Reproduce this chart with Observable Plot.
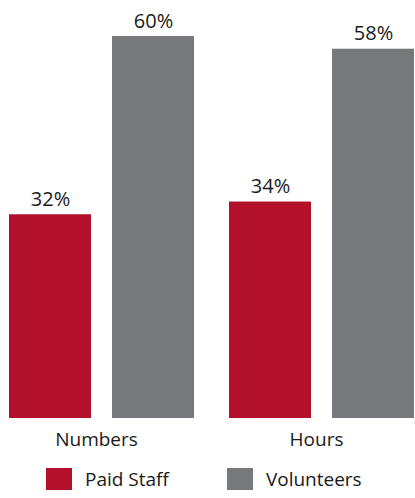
<!DOCTYPE html>
<html>
<head>
<meta charset="utf-8">
<script src="https://cdn.jsdelivr.net/npm/d3@7"></script>
<script src="https://cdn.jsdelivr.net/npm/@observablehq/plot@0.6"></script>
<style>
  html, body { margin: 0; padding: 0; background: #fff; }
  body { width: 415px; height: 498px; overflow: hidden; font-family: "Open Sans", sans-serif; color: #1a1a1a; }
  #legend { display: flex; align-items: center; height: 38px; padding-left: 46px; font-size: 19px; }
  .item { display: flex; align-items: center; }
  .sw { width: 26px; height: 22px; margin-right: 13px; }
</style>
</head>
<body>
<div id="chart"></div>
<div id="legend"></div>
<script>
const groups = ["Numbers", "Hours"];
const series = ["Paid Staff", "Volunteers"];
const colors = ["#b3102b", "#76787b"];
const values = {
  "Paid Staff": [32, 34],
  "Volunteers": [60, 58]
};

const data = [];
groups.forEach((g, i) => series.forEach(s => data.push({group: g, series: s, value: values[s][i]})));

const chart = Plot.plot({
  width: 415,
  height: 460,
  marginLeft: 9,
  marginRight: 0,
  marginTop: 36,
  marginBottom: 42,
  style: {fontFamily: "'Open Sans', sans-serif", color: "#1a1a1a", background: "#fff"},
  fx: {domain: groups, paddingInner: 0.155, paddingOuter: 0, label: null},
  x: {domain: series, paddingInner: 0.2, paddingOuter: 0, axis: null},
  y: {domain: [0, 60], axis: null},
  color: {domain: series, range: colors},
  marks: [
    Plot.barY(data, {fx: "group", x: "series", y: "value", fill: "series"}),
    Plot.text(data, {fx: "group", x: "series", y: "value", text: d => d.value + "%", dy: -9, lineAnchor: "bottom", fontSize: 20, fill: "#1a1a1a"}),
    Plot.axisFx({anchor: "bottom", tickSize: 0, tickPadding: 14, dx: -6, fontSize: 19, label: null, fill: "#1a1a1a"})
  ]
});
document.getElementById("chart").appendChild(chart);

const legend = document.getElementById("legend");
series.forEach((s, i) => {
  const item = document.createElement("div");
  item.className = "item";
  if (i > 0) item.style.marginLeft = "58px";
  const sw = document.createElement("div");
  sw.className = "sw";
  sw.style.background = colors[i];
  const t = document.createElement("span");
  t.textContent = s;
  item.appendChild(sw);
  item.appendChild(t);
  legend.appendChild(item);
});
</script>
</body>
</html>
